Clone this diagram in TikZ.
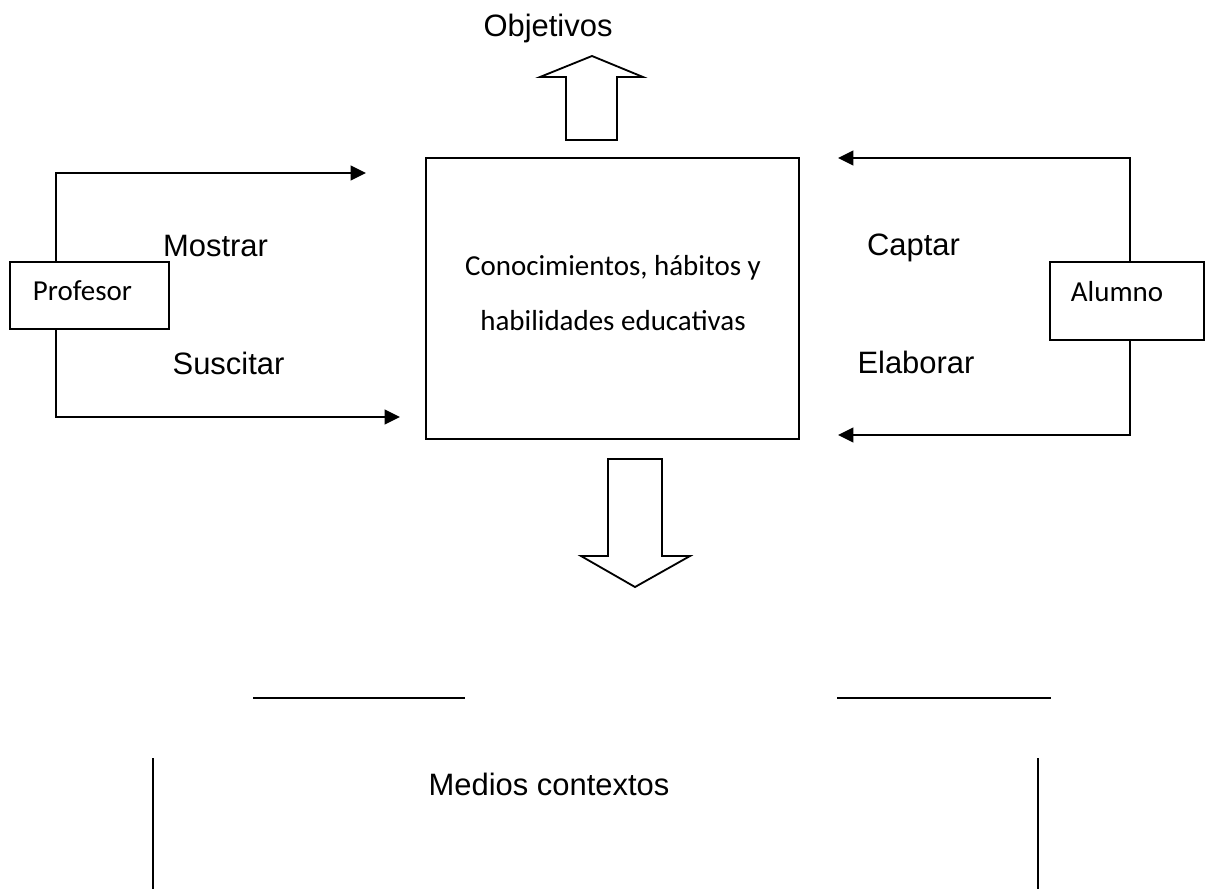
\documentclass[tikz,border=0pt]{standalone}
\usepackage{fontspec}
\setmainfont{Liberation Sans}
\newfontfamily\calibri{Carlito}
\usetikzlibrary{arrows.meta}

\begin{document}
\begin{tikzpicture}[x=0.025cm,y=-0.025cm,line width=1.3pt,
	box/.style={draw,inner sep=0pt},
	word/.style={anchor=base,inner sep=0pt,font=\fontsize{22}{26}\selectfont},
	cword/.style={anchor=base west,inner sep=0pt,font=\calibri\fontsize{20.6}{24}\selectfont},
	conn/.style={-{Triangle[length=11pt,width=10.5pt]}}]
	%\draw[help lines] (0,0) grid[step=100] (1210,889);
	\useasboundingbox (0,0) rectangle (1210,889);
	\node[box,minimum width=9.325cm,minimum height=7.025cm] (saber) at (612.5,298.5) {};
	\node[cword,anchor=base] (saber1) at (613,275) {Conocimientos, hábitos y};
	\node[cword,anchor=base] (saber2) at (613,330) {habilidades educativas};
	\node[box,minimum width=3.975cm,minimum height=1.675cm] (prof) at (89.5,295.5) {};
	\node[cword] (proftxt) at (32,300) {Profesor};
	\node[box,minimum width=3.85cm,minimum height=1.95cm] (alum) at (1127,301) {};
	\node[cword] (alumtxt) at (1070,301) {Alumno};
	\coordinate (pv) at (56,0);
	\coordinate (av) at (1130,0);
	\coordinate (mostrar) at (366,173);
	\coordinate (suscitar) at (400,417);
	\coordinate (captar) at (838,158);
	\coordinate (elaborar) at (838,435);
	\draw[conn] (prof.north -| pv) |- (mostrar);
	\draw[conn] (prof.south -| pv) |- (suscitar);
	\draw[conn] (alum.north -| av) |- (captar);
	\draw[conn] (alum.south -| av) |- (elaborar);
	\node[word] (mostrartxt) at (215.5,256) {Mostrar};
	\node[word] (suscitartxt) at (228.5,374) {Suscitar};
	\node[word] (captartxt) at (913.5,255) {Captar};
	\node[word] (elaborartxt) at (916,373) {Elaborar};
	\node[word] (obj) at (548,36) {Objetivos};
	\draw (566,140) -- (566,77) -- (540,77) -- (592,56) -- (643,77) -- (617,77) -- (617,140) -- cycle;
	\draw (608,459) -- (662,459) -- (662,556) -- (690,556) -- (635,587) -- (581,556) -- (608,556) -- cycle;
	\draw (253,698) -- (465,698);
	\draw (837,698) -- (1051,698);
	\draw (153,758) -- (153,889);
	\draw (1038,758) -- (1038,889);
	\node[word] (medios) at (549,795) {Medios contextos};
\end{tikzpicture}
\end{document}
